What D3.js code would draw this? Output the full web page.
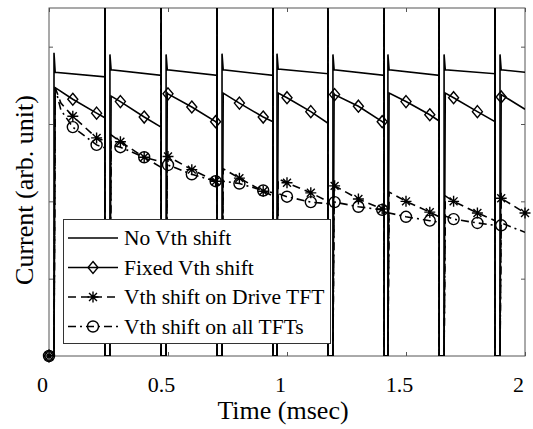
<!DOCTYPE html>
<html>
<head>
<meta charset="utf-8">
<script src="https://cdn.jsdelivr.net/npm/d3@7"></script>
<style>
  html, body { margin: 0; padding: 0; background: #fff; }
  svg text { font-family: "Liberation Serif", "Times New Roman", serif; fill: #000; }
</style>
</head>
<body>
<div id="chart"></div>
<script>
// pulse timing (msec): rising edge of each frame and the end of it
const periodStartT = [0.021, 0.256, 0.492, 0.727, 0.958, 1.193, 1.424, 1.660, 1.895];
const periodEndT   = [0.235, 0.471, 0.706, 0.941, 1.172, 1.408, 1.639, 1.874, 2.0];
const spikeTop = 6; // goes off the top of the axes

// No Vth shift
const noShiftPeak  = [3.92, 3.90, 3.90, 3.91, 3.91, 3.90, 3.90, 3.90, 3.90];
const noShiftStart = [3.67, 3.70, 3.70, 3.70, 3.71, 3.70, 3.70, 3.70, 3.70];
const noShiftEnd   = [3.61, 3.63, 3.63, 3.63, 3.65, 3.63, 3.63, 3.65, 3.67];

// marker times
const markerT = [0, 0.1, 0.2, 0.3, 0.4, 0.5, 0.6, 0.7, 0.8, 0.9, 1.0,
                 1.1, 1.2, 1.3, 1.4, 1.5, 1.6, 1.7, 1.8, 1.9, 2.0];

// Fixed Vth shift
const fixedStart = [3.47, 3.36, 3.40, 3.40, 3.40, 3.39, 3.40, 3.40, 3.38];
const fixedEnd   = [3.08, 2.96, 3.01, 3.03, 3.01, 3.01, 3.04, 3.03, 3.19];
const fixedMarks = [0, 3.32, 3.14, 3.29, 3.09, 3.39, 3.22, 3.03, 3.27, 3.09, 3.34,
                    3.16, 3.38, 3.23, 3.03, 3.29, 3.12, 3.34, 3.16, 3.35];

// Vth shift on Drive TFT
const driveStart = [3.47, 2.86, 2.59, 2.42, 2.29, 2.21, 2.12, 2.07, 2.04];
const driveEnd   = [2.78, 2.44, 2.25, 2.07, 2.00, 1.89, 1.80, 1.75, 1.85];
const driveMarks = [0, 3.10, 2.82, 2.77, 2.57, 2.58, 2.41, 2.26, 2.30, 2.13, 2.24,
                    2.11, 2.20, 2.03, 1.90, 2.00, 1.86, 2.00, 1.85, 2.04, 1.85];
const driveEarly = [[0.05, 3.27]];

// Vth shift on all TFTs
const allStart = [3.47, 2.73, 2.50, 2.26, 2.10, 1.99, 1.85, 1.81, 1.72];
const allEnd   = [2.69, 2.51, 2.26, 2.11, 1.97, 1.89, 1.73, 1.69, 1.60];
const allMarks = [0, 2.96, 2.73, 2.70, 2.57, 2.47, 2.35, 2.26, 2.23, 2.14, 2.06,
                  1.99, 1.99, 1.93, 1.89, 1.80, 1.75, 1.77, 1.72, 1.69];
const allEarly = [[0.05, 3.18]];

const xTicks = [0, 0.5, 1, 1.5, 2];
const yTicks = [1, 2, 3, 4];

const legendLabels = ["No Vth shift", "Fixed Vth shift", "Vth shift on Drive TFT", "Vth shift on all TFTs"];

(() => {
    const W = 533, H = 429;
    const m = { top: 8, right: 8, bottom: 73, left: 49 };
    const w = W - m.left - m.right;
    const h = H - m.top - m.bottom;

    const svg = d3.select("#chart").append("svg").attr("width", W).attr("height", H);
    const g = svg.append("g").attr("transform", `translate(${m.left},${m.top})`);

    const x = d3.scaleLinear().domain([0, 2]).range([0, w]);
    const y = d3.scaleLinear().domain([0, 4.5]).range([h, 0]);

    svg.append("defs").append("clipPath").attr("id", "plotClip")
        .append("rect").attr("width", w).attr("height", h);

    // stitch the pulses and decays of one curve together
    const build = (startV, endV, marks, peak, extra) => {
        const pts = [[0, 0]];
        periodStartT.forEach((s, i) => {
            const e = periodEndT[i];
            pts.push([s, 0]);
            if (peak) pts.push([s, peak[i]]);
            const inner = [[s + 0.005, startV[i]]];
            (extra || []).forEach(p => { if (p[0] > s && p[0] < e) inner.push(p); });
            marks.forEach((v, k) => {
                const t = markerT[k];
                if (t > s + 0.005 && t < e) inner.push([t, v]);
            });
            inner.sort((a, b) => a[0] - b[0]);
            pts.push(...inner, [e, endV[i]]);
            if (i < periodStartT.length - 1) pts.push([e, spikeTop], [e, 0]);
        });
        return pts;
    };

    const series = [
        { pts: build(noShiftStart, noShiftEnd, [], noShiftPeak), dash: null, marker: null, marks: [] },
        { pts: build(fixedStart, fixedEnd, fixedMarks), dash: null, marker: "diamond", marks: fixedMarks },
        { pts: build(driveStart, driveEnd, driveMarks, null, driveEarly), dash: "8,5", marker: "star", marks: driveMarks },
        { pts: build(allStart, allEnd, allMarks, null, allEarly), dash: "8,4,2,4", marker: "circle", marks: allMarks }
    ];

    const line = d3.line().x(d => x(d[0])).y(d => y(d[1]));

    // axes: inward ticks, no domain line (box drawn separately)
    const fmt = d3.format("");
    const xb = g.append("g").attr("transform", `translate(0,${h})`)
        .call(d3.axisBottom(x).tickValues(xTicks).tickSizeInner(-4).tickSizeOuter(0).tickPadding(20).tickFormat(fmt));
    xb.selectAll("text").attr("font-size", 22).attr("dx", -7);
    g.append("g").call(d3.axisTop(x).tickValues(xTicks).tickSizeInner(-4).tickSizeOuter(0).tickFormat(""));
    g.append("g").call(d3.axisLeft(y).tickValues(yTicks).tickSizeInner(-4).tickSizeOuter(0).tickFormat(""));
    g.append("g").attr("transform", `translate(${w},0)`)
        .call(d3.axisRight(y).tickValues(yTicks).tickSizeInner(-4).tickSizeOuter(0).tickFormat(""));
    g.selectAll(".domain").remove();
    g.selectAll(".tick line").attr("stroke", "#555");

    g.append("rect").attr("width", w).attr("height", h)
        .attr("fill", "none").attr("stroke", "#555").attr("stroke-width", 1);

    const plot = g.append("g").attr("clip-path", "url(#plotClip)");
    series.forEach(s => {
        plot.append("path").datum(s.pts)
            .attr("d", line)
            .attr("fill", "none").attr("stroke", "#000").attr("stroke-width", 1.6)
            .attr("stroke-dasharray", s.dash);
    });

    const drawMarker = (sel, type, cx, cy) => {
        if (type === "diamond") {
            sel.append("path").attr("d", `M${cx},${cy - 6}L${cx + 5},${cy}L${cx},${cy + 6}L${cx - 5},${cy}Z`)
                .attr("fill", "none").attr("stroke", "#000").attr("stroke-width", 1.4);
        } else if (type === "circle") {
            sel.append("circle").attr("cx", cx).attr("cy", cy).attr("r", 5.5)
                .attr("fill", "none").attr("stroke", "#000").attr("stroke-width", 1.4);
        } else if (type === "star") {
            const r = 5.5, q = r * 0.72;
            sel.append("path")
                .attr("d", `M${cx - r},${cy}H${cx + r}M${cx},${cy - r}V${cy + r}` +
                    `M${cx - q},${cy - q}L${cx + q},${cy + q}M${cx - q},${cy + q}L${cx + q},${cy - q}`)
                .attr("fill", "none").attr("stroke", "#000").attr("stroke-width", 1.4);
        }
    };

    const mk = g.append("g");
    series.forEach(s => {
        if (!s.marker) return;
        s.marks.forEach((v, k) => drawMarker(mk, s.marker, x(markerT[k]), y(v)));
    });

    // legend
    const lg = svg.append("g");
    lg.append("rect").attr("x", 63.5).attr("y", 219.5).attr("width", 267).attr("height", 124)
        .attr("fill", "#fff").attr("stroke", "#333").attr("stroke-width", 1);
    const rowY = [245, 274.5, 304, 333.5];
    legendLabels.forEach((lab, i) => {
        const ly = rowY[i] - 7;
        const s = series[i];
        lg.append("line").attr("x1", 68).attr("x2", 118).attr("y1", ly).attr("y2", ly)
            .attr("stroke", "#000").attr("stroke-width", 1.6).attr("stroke-dasharray", s.dash);
        if (s.marker) drawMarker(lg, s.marker, 93, ly);
        lg.append("text").attr("x", 124).attr("y", rowY[i]).attr("font-size", 21.5).text(lab);
    });

    svg.append("text").attr("x", 283).attr("y", 419).attr("text-anchor", "middle")
        .attr("font-size", 26).text("Time (msec)");
    svg.append("text").attr("transform", "translate(33,190) rotate(-90)").attr("text-anchor", "middle")
        .attr("font-size", 26).text("Current (arb. unit)");
})();
</script>
</body>
</html>
